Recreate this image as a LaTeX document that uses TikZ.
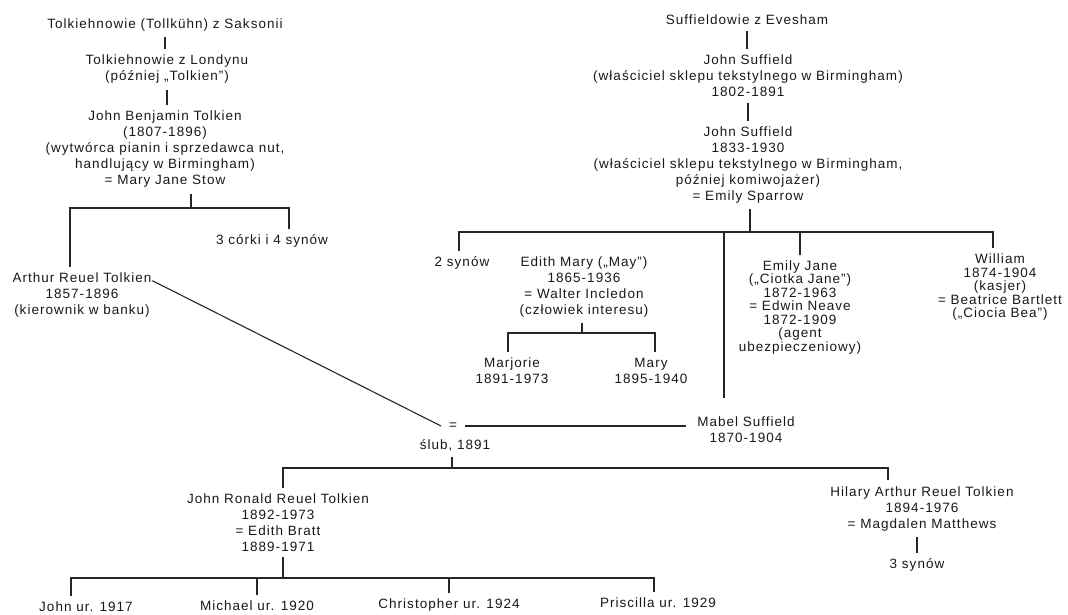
\documentclass[tikz,border=0pt]{standalone}
\usepackage{fontspec}
\setmainfont[LetterSpace=7.5]{Liberation Sans}
\begin{document}
\begin{tikzpicture}[x=1pt,y=-1pt,
  lbl/.style={inner xsep=1pt,inner ysep=6pt,outer sep=0pt,align=center,
              font=\fontsize{13.5}{16}\selectfont,text=black!90},
  tight/.style={font=\fontsize{13.5}{13.5}\selectfont},
  ln/.style={line width=1.3pt,draw=black!85}]
\useasboundingbox (0,0) rectangle (1068,614);
\fill[white] (0,0) rectangle (1068,614);

% --- Tolkien line ---
\node[lbl] (sax) at (165,25) {Tolkiehnowie (Tollkühn) z Saksonii};
\node[lbl] (lon) at (167,69.5) {Tolkiehnowie z Londynu\\(później „Tolkien”)};
\node[lbl] (jbt) at (165,149.5) {John Benjamin Tolkien\\(1807-1896)\\(wytwórca pianin i sprzedawca nut,\\handlujący w Birmingham)\\= Mary Jane Stow};
\node[lbl] (corki) at (272,241) {3 córki i 4 synów};
\node[lbl] (art) at (82,295) {Arthur Reuel Tolkien\\1857-1896\\(kierownik w banku)};

% --- Suffield line ---
\node[lbl] (eve) at (747,20) {Suffieldowie z Evesham};
\node[lbl] (js1) at (748,76) {John Suffield\\(właściciel sklepu tekstylnego w Birmingham)\\1802-1891};
\node[lbl] (js2) at (748,165) {John Suffield\\1833-1930\\(właściciel sklepu tekstylnego w Birmingham,\\później komiwojażer)\\= Emily Sparrow};
\node[lbl] (syn2) at (462,263) {2 synów};
\node[lbl] (edm) at (584,287) {Edith Mary („May”)\\1865-1936\\= Walter Incledon\\(człowiek interesu)};
\node[lbl,tight] (emj) at (800,307.5) {Emily Jane\\(„Ciotka Jane”)\\1872-1963\\= Edwin Neave\\1872-1909\\(agent\\ubezpieczeniowy)};
\node[lbl,tight] (wil) at (1000,287) {William\\1874-1904\\(kasjer)\\= Beatrice Bartlett\\(„Ciocia Bea”)};
\node[lbl] (marj) at (512,371) {Marjorie\\1891-1973};
\node[lbl] (mary) at (651,371) {Mary\\1895-1940};
\node[lbl] (mab) at (746,430) {Mabel Suffield\\1870-1904};

% --- marriage and children ---
\node[lbl,inner xsep=8pt] (eq) at (453,426) {=};
\node[lbl] (slub) at (455,445) {ślub, 1891};
\node[lbl] (jrrt) at (278,522.5) {John Ronald Reuel Tolkien\\1892-1973\\= Edith Bratt\\1889-1971};
\node[lbl] (hil) at (922,508.5) {Hilary Arthur Reuel Tolkien\\1894-1976\\= Magdalen Matthews};
\node[lbl] (hs3) at (917,565) {3 synów};
\node[lbl] (c1) at (86,607) {John ur. 1917};
\node[lbl] (c2) at (257,606) {Michael ur. 1920};
\node[lbl] (c3) at (449,605) {Christopher ur. 1924};
\node[lbl] (c4) at (658,603) {Priscilla ur. 1929};

% junction coordinates
\coordinate (tb)  at (191,208);
\coordinate (tbL) at (70,208);
\coordinate (tbR) at (289,208);
\coordinate (sb)  at (750,232);
\coordinate (sL)  at (459,232);
\coordinate (sR)  at (993,232);
\coordinate (sM)  at (724,232);
\coordinate (eb)  at (582,333);
\coordinate (ebL) at (508,333);
\coordinate (ebR) at (655,333);
\coordinate (mb)  at (452,468);
\coordinate (mbL) at (283,468);
\coordinate (mbR) at (888,468);
\coordinate (cb)  at (283,578);
\coordinate (cbL) at (71,578);
\coordinate (cbR) at (654,578);

% Tolkien connectors
\draw[ln] (sax.south) -- (sax.south |- lon.north);
\draw[ln] (lon.south) -- (lon.south |- jbt.north);
\draw[ln] (jbt.south -| tb) -- (tb);
\draw[ln] (art.north -| tbL) -- (tbL) -- (tbR) -- (corki.north -| tbR);
\draw[ln,line width=1.1pt] ([yshift=-14pt]art.north east) -- (eq.west);

% Suffield connectors
\draw[ln] (eve.south) -- (eve.south |- js1.north);
\draw[ln] (js1.south) -- (js1.south |- js2.north);
\draw[ln] (js2.south -| sb) -- (sb);
\draw[ln] (syn2.north -| sL) -- (sL) -- (sR) -- (wil.north -| sR);
\draw[ln] (edm.north -| eb) -- (edm.north -| eb |- sL);
\draw[ln] (emj.north) -- (emj.north |- sL);
\draw[ln,shorten >=13pt] (sM) -- (sM |- mab.north);
\draw[ln] (edm.south -| eb) -- (eb);
\draw[ln] (marj.north -| ebL) -- (ebL) -- (ebR) -- (mary.north -| ebR);

% marriage and children
\draw[ln,shorten >=10pt] (eq.east) -- (eq.east -| mab.west);
\draw[ln] (slub.south -| mb) -- (mb);
\draw[ln] (jrrt.north -| mbL) -- (mbL) -- (mbR) -- (hil.north -| mbR);
\draw[ln] (jrrt.south -| cb) -- (cb);
\draw[ln] (c1.north -| cbL) -- (cbL) -- (cbR) -- (c4.north -| cbR);
\draw[ln] (c2.north) -- (c2.north |- cbL);
\draw[ln] (c3.north) -- (c3.north |- cbL);
\draw[ln] (hil.south -| hs3) -- (hs3.north);
\end{tikzpicture}
\end{document}
